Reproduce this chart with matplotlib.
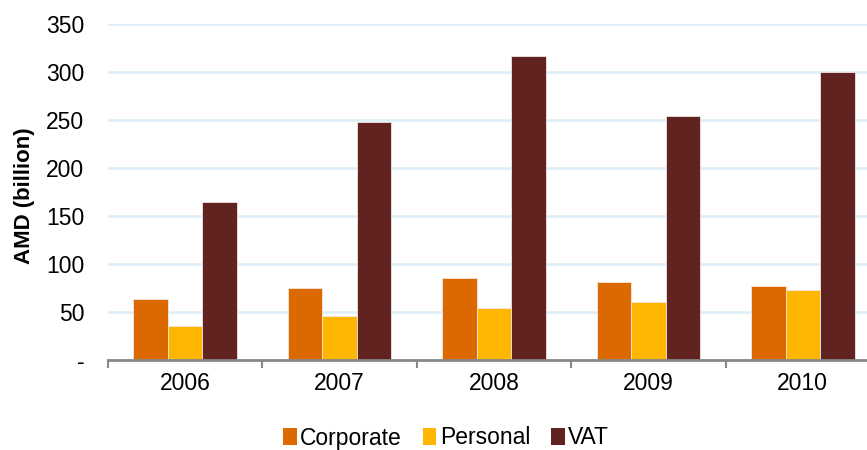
import matplotlib
matplotlib.use("Agg")
import matplotlib.pyplot as plt
import numpy as np
from matplotlib.patches import Patch

years = ["2006", "2007", "2008", "2009", "2010"]
corporate = [64, 75, 85, 81, 77]
personal = [35, 46, 54, 60, 73]
vat = [165, 248, 317, 254, 300]

series_names = ["Corporate", "Personal", "VAT"]
colors = ["#DC6900", "#FFB600", "#602320"]

plt.rcParams['font.family'] = ['Liberation Sans', 'DejaVu Sans']
fs = 16.5

fig = plt.figure(figsize=(8.67, 4.5), dpi=100)
ax = fig.add_axes([108 / 867, 90 / 450, 772 / 867, 336 / 450])

x = np.arange(len(years))
w = 0.224
for i, (vals, c) in enumerate(zip([corporate, personal, vat], colors)):
    ax.bar(x + (i - 1) * w, vals, width=w, color=c, edgecolor="#f3e6e2",
           linewidth=0.6, zorder=3)

ax.set_xlim(-0.5, len(years) - 0.5)
ax.set_ylim(0, 350)
ax.set_yticks(range(0, 351, 50))
ax.set_yticklabels(["-"] + [str(v) for v in range(50, 351, 50)], fontsize=fs)
ax.yaxis.grid(True, color="#DCEEF7", linewidth=1.8, zorder=0)
ax.tick_params(axis="y", length=0, pad=17)

ax.set_xticks(x)
ax.set_xticklabels(years, fontsize=fs)
ax.set_xticks(np.arange(-0.5, len(years), 1), minor=True)
ax.tick_params(axis="x", which="major", length=0, pad=9)
ax.tick_params(axis="x", which="minor", length=6, width=1.5, color="#888888",
               direction="out")

for s in ["top", "right", "left"]:
    ax.spines[s].set_visible(False)
ax.spines["bottom"].set_color("#888888")
ax.spines["bottom"].set_linewidth(2)
ax.spines["bottom"].set_zorder(4)

ax.set_ylabel("AMD (billion)", fontsize=fs - 0.5, fontweight="bold")
ax.yaxis.set_label_coords(-0.094, 0.49)

handles = [Patch(facecolor=c, edgecolor="none") for c in colors]
fig.legend(handles, series_names, loc="center", bbox_to_anchor=(446 / 867, 12 / 450),
           ncol=3, frameon=False, fontsize=fs, handlelength=0.6, handleheight=0.7,
           handletextpad=0.15, columnspacing=0.9)

fig.savefig("out.png", dpi=100)
